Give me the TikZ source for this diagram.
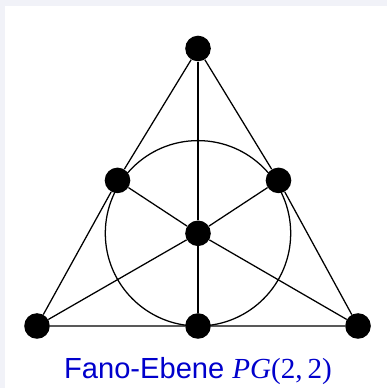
\documentclass[tikz,border=0pt]{standalone}
\usepackage{fontspec}
\setmainfont{Liberation Sans}
\newfontfamily\timesfont{Liberation Serif}
\definecolor{framegray}{RGB}{241,242,248}
\definecolor{capblue}{RGB}{0,0,204}
\begin{document}
\begin{tikzpicture}[fanopt/.style={circle,fill=black,inner sep=0pt,minimum size=0.64cm},
  edge/.style={line width=0.9pt}]
\useasboundingbox (0,0) rectangle (9.675,9.7);
\fill[framegray] (0,0) rectangle (9.675,9.7);
\fill[white] (0.125,0) rectangle (9.675,9.55);

\node[fanopt] (top) at (4.95,8.4875) {};
\node[fanopt] (bl) at (0.925,1.55) {};
\node[fanopt] (bm) at (4.95,1.55) {};
\node[fanopt] (br) at (8.95,1.55) {};
\node[fanopt] (lm) at (2.9375,5.19) {};
\node[fanopt] (rm) at (6.9625,5.19) {};
\node[fanopt] (mid) at (4.95,3.8675) {};

\draw[edge] (bl)--(lm)--(top)--(rm)--(br)--(bm)--(bl);
\draw[edge] (top)--(mid)--(bm);
\draw[edge] (lm)--(mid)--(br);
\draw[edge] (rm)--(mid)--(bl);
\draw[edge] (mid) circle (2.3175);

\node[anchor=base,text=capblue,font=\fontsize{20.7}{24}\selectfont,inner sep=0pt] (cap) at (4.95,0.225)
  {Fano-Ebene {\timesfont\itshape PG}{\timesfont(2,\,2)}};
\end{tikzpicture}
\end{document}
